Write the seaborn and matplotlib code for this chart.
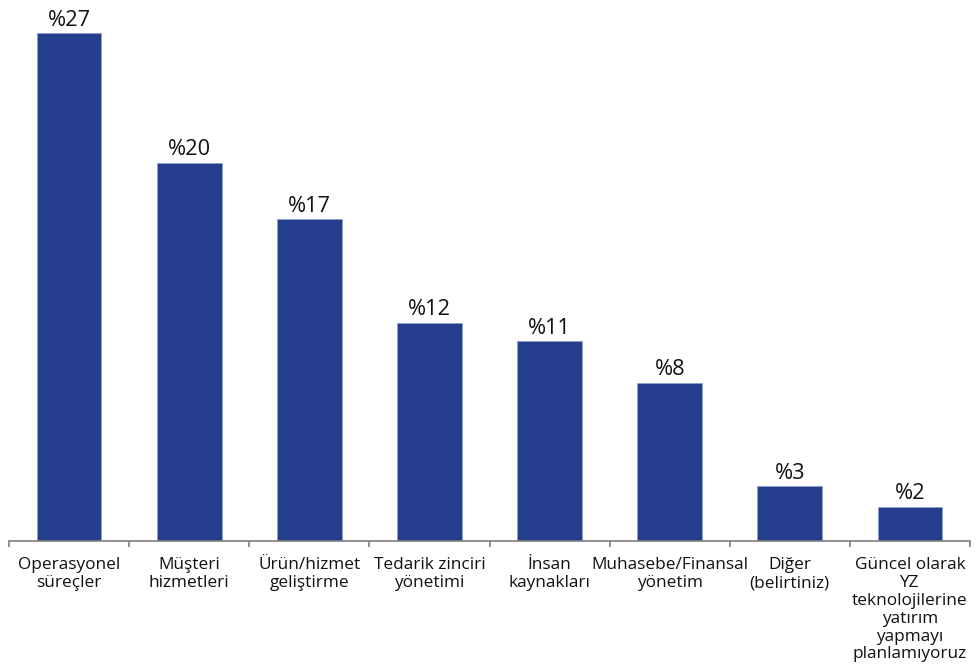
import matplotlib
matplotlib.use("Agg")
import matplotlib.pyplot as plt
import seaborn as sns
import pandas as pd
import numpy as np

categories = ["Operasyonel\nsüreçler", "Müşteri\nhizmetleri", "Ürün/hizmet\ngeliştirme",
              "Tedarik zinciri\nyönetimi", "İnsan\nkaynakları", "Muhasebe/Finansal\nyönetim",
              "Diğer\n(belirtiniz)",
              "Güncel olarak\nYZ\nteknolojilerine\nyatırım\nyapmayı\nplanlamıyoruz"]
values = [27, 20.1, 17.1, 11.6, 10.6, 8.4, 2.9, 1.8]
value_labels = ["%27", "%20", "%17", "%12", "%11", "%8", "%3", "%2"]

sns.set_theme(style="white")
plt.rcParams['font.family'] = ['Open Sans', 'DejaVu Sans']

df = pd.DataFrame({"cat": categories, "val": values})
fig = plt.figure(figsize=(9.76, 6.66), dpi=100)
ax = fig.add_axes([9/976, 125.3/666, 961/976, 1 - 125.3/666])
sns.barplot(data=df, x="cat", y="val", color="#253F8E", saturation=1, width=0.54,
            edgecolor="#8FA0CC", linewidth=0.6, ax=ax)
ax.set_ylim(0, 27 * 540.7 / 507.4)
ax.set_xlim(-0.5, len(categories) - 0.5)
for i, (v, lab) in enumerate(zip(values, value_labels)):
    ax.annotate(lab, xy=(i, v), xytext=(0, 5.5), textcoords="offset points",
                ha="center", va="baseline", fontsize=15.7, color="#111111")
ax.set_xlabel("")
ax.set_ylabel("")
ax.set_yticks([])
for s in ["top", "right", "left"]:
    ax.spines[s].set_visible(False)
ax.spines["bottom"].set_color("#808080")
ax.spines["bottom"].set_linewidth(1.2)
ax.tick_params(axis="x", which="major", length=0, pad=12, labelsize=12.4, labelcolor="#111111")
ax.set_xticks(np.arange(-0.5, len(categories)), minor=True)
ax.tick_params(axis="x", which="minor", length=4, width=1.2, color="#808080", bottom=True)
for t in ax.get_xticklabels():
    t.set_linespacing(1.15)
fig.savefig("out.png", dpi=100)
